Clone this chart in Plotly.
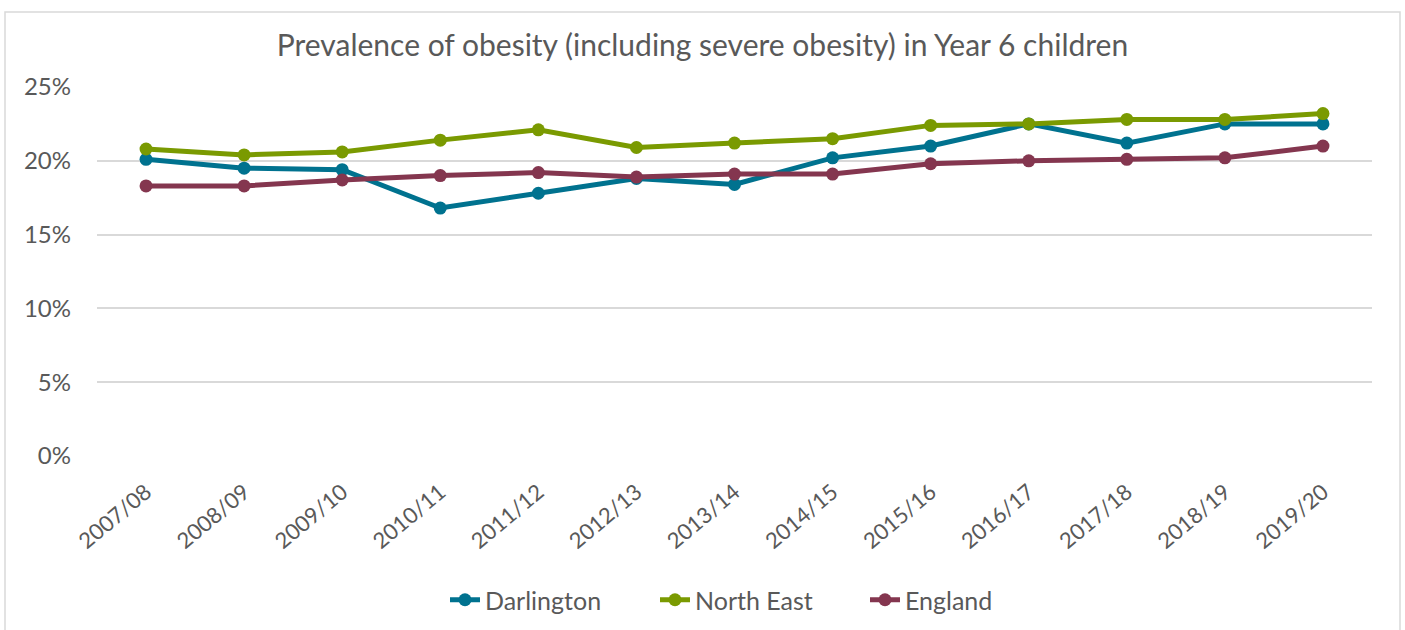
import plotly.graph_objects as go

years = ["2007/08", "2008/09", "2009/10", "2010/11", "2011/12", "2012/13", "2013/14",
         "2014/15", "2015/16", "2016/17", "2017/18", "2018/19", "2019/20"]
darlington = [20.1, 19.5, 19.4, 16.8, 17.8, 18.8, 18.4, 20.2, 21.0, 22.5, 21.2, 22.5, 22.5]
north_east = [20.8, 20.4, 20.6, 21.4, 22.1, 20.9, 21.2, 21.5, 22.4, 22.5, 22.8, 22.8, 23.2]
england = [18.3, 18.3, 18.7, 19.0, 19.2, 18.9, 19.1, 19.1, 19.8, 20.0, 20.1, 20.2, 21.0]

series = [("Darlington", darlington, "#00728F"),
          ("North East", north_east, "#7A9A01"),
          ("England", england, "#84364F")]

FONT = "Lato, Calibri, Carlito, sans-serif"
GREY = "#595959"

W, H = 1405, 630
L, R, T, B = 97, 33, 87, 174
PW, PH = W - L - R, H - T - B

fig = go.Figure()
for name, vals, col in series:
    fig.add_trace(go.Scatter(
        x=years, y=vals, name=name, mode="lines+markers",
        line=dict(color=col, width=5),
        marker=dict(color=col, size=13),
        hovertemplate="%{x}: %{y:.1f}%<extra>" + name + "</extra>",
    ))

fig.update_layout(
    width=W, height=H,
    paper_bgcolor="white", plot_bgcolor="white",
    margin=dict(l=L, r=R, t=T, b=B, autoexpand=False),
    font=dict(family=FONT, color=GREY, size=22),
    title=dict(text="Prevalence of obesity (including severe obesity) in Year 6 children",
               x=0.5, xanchor="center", xref="container", y=1 - 45 / H, yanchor="middle",
               yref="container",
               font=dict(family=FONT, size=30, color=GREY)),
    xaxis=dict(type="category", tickangle=-40, showgrid=False, showline=False,
               ticks="", tickfont=dict(size=22, color=GREY), zeroline=False,
               ticklabelstandoff=18,
               range=[-0.5, len(years) - 0.5]),
    yaxis=dict(range=[0, 25], dtick=5, ticksuffix="%", showgrid=True,
               gridcolor="#D9D9D9", gridwidth=1.5, zeroline=False, showline=False,
               tickfont=dict(size=24, color=GREY), ticks="", ticklabelstandoff=25),
    legend=dict(orientation="h", x=760 / W, xanchor="center", xref="container",
                y=30 / H, yanchor="middle", yref="container",
                font=dict(size=25, color=GREY), entrywidth=165, entrywidthmode="pixels",
                traceorder="normal"),
    showlegend=True,
)

fig.add_shape(type="rect", xref="paper", yref="paper",
              x0=(5 - L) / PW, x1=(1400 - L) / PW,
              y0=(H - B - 660) / PH, y1=(H - B - 12) / PH,
              line=dict(color="#D9D9D9", width=1.5), fillcolor="rgba(0,0,0,0)", layer="below")

fig.write_html("out.html", config={"displayModeBar": False},
               post_script="document.body.style.margin='0';document.body.style.overflow='hidden';")
